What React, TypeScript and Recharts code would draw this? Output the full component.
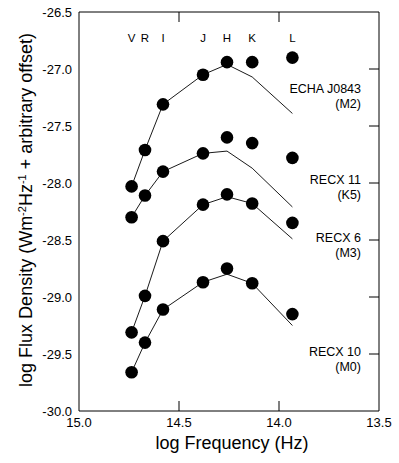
import React from "react";
import { ScatterChart, Scatter, XAxis, YAxis } from "recharts";

// photometric bands, log frequency (Hz)
const bands = ["V", "R", "I", "J", "H", "K", "L"];
const bandFreq = [14.737, 14.67, 14.58, 14.38, 14.26, 14.134, 13.933];

const stars = ["ECHA J0843", "RECX 11", "RECX 6", "RECX 10"];
const spectralTypes = ["(M2)", "(K5)", "(M3)", "(M0)"];

// observed fluxes (log, with offsets)
const echaObs = [-28.03, -27.71, -27.31, -27.05, -26.94, -26.94, -26.9];
const recx11Obs = [-28.3, -28.11, -27.9, -27.74, -27.6, -27.65, -27.78];
const recx6Obs = [-29.31, -28.99, -28.51, -28.19, -28.1, -28.18, -28.35];
const recx10Obs = [-29.66, -29.4, -29.11, -28.87, -28.75, -28.88, -29.15];

// photospheric model curves
const echaModel = [-28.03, -27.71, -27.31, -27.05, -26.96, -27.07, -27.39];
const recx11Model = [-28.3, -28.11, -27.9, -27.74, -27.72, -27.87, -28.21];
const recx6Model = [-29.31, -28.99, -28.51, -28.19, -28.12, -28.18, -28.49];
const recx10Model = [-29.66, -29.4, -29.11, -28.87, -28.8, -28.88, -29.25];

const xTicks = [15.0, 14.5, 14.0, 13.5];
const yTicks = [-30.0, -29.5, -29.0, -28.5, -28.0, -27.5, -27.0, -26.5];

// where the band letters and star names sit
const bandLabelY = -26.72;
const nameX = 13.59;
const nameY = [-27.175, -27.97, -28.48, -29.48];

const FONT = "'Liberation Sans', Arial, Helvetica, sans-serif";

const toPts = (ys: number[]) => ys.map((y, i) => ({ x: bandFreq[i], y }));

const observed = [echaObs, recx11Obs, recx6Obs, recx10Obs].map(toPts);
const models = [echaModel, recx11Model, recx6Model, recx10Model].map(toPts);
const bandData = bands.map((b, i) => ({ x: bandFreq[i], y: bandLabelY, name: b }));
const nameData = stars.map((s, i) => ({ x: nameX, y: nameY[i], name: s, sub: spectralTypes[i] }));

const Dot = (p: any) => <circle cx={p.cx} cy={p.cy} r={6.3} fill="#000" />;
const NoDot = () => <g />;

const BandText = (p: any) => (
  <text x={p.cx} y={p.cy + 4.5} textAnchor="middle" fontSize={11.5} fontFamily={FONT} fill="#000">
    {p.payload.name}
  </text>
);

const NameText = (p: any) => (
  <text textAnchor="end" fontSize={12.5} fontFamily={FONT} fill="#000">
    <tspan x={p.cx} y={p.cy + 4.5}>{p.payload.name}</tspan>
    <tspan x={p.cx} y={p.cy + 19.5}>{p.payload.sub}</tspan>
  </text>
);

const BottomTick = (p: any) => {
  const v = p.payload.value;
  const edge = v === 15 || v === 13.5;
  return (
    <g>
      {!edge && <line x1={p.x} y1={p.y} x2={p.x} y2={p.y - 10} stroke="#000" />}
      <text x={p.x} y={p.y + 16} textAnchor="middle" fontSize={13} fontFamily={FONT} fill="#000">
        {v.toFixed(1)}
      </text>
    </g>
  );
};

const TopTick = (p: any) => {
  const v = p.payload.value;
  if (v === 15 || v === 13.5) return <g />;
  return <line x1={p.x} y1={p.y} x2={p.x} y2={p.y + 10} stroke="#000" />;
};

const RightTick = (p: any) => {
  const v = p.payload.value;
  if (v === -30 || v === -26.5) return <g />;
  return <line x1={p.x} y1={p.y} x2={p.x - 10} y2={p.y} stroke="#000" />;
};

export default function App() {
  return (
    <div style={{ position: "absolute", left: 0, top: 0, background: "#fff" }}>
      <ScatterChart width={399} height={463} margin={{ top: 0, right: 0, bottom: 0, left: 0 }}>
        <XAxis
          type="number"
          dataKey="x"
          domain={[13.5, 15]}
          reversed
          ticks={xTicks}
          interval={0}
          height={52}
          tickSize={0}
          tickMargin={0}
          tickLine={false}
          axisLine={{ stroke: "#000" }}
          tick={<BottomTick />}
          allowDataOverflow
        />
        <XAxis
          xAxisId="top"
          orientation="top"
          type="number"
          dataKey="x"
          domain={[13.5, 15]}
          reversed
          ticks={xTicks}
          interval={0}
          height={12}
          tickSize={0}
          tickMargin={0}
          tickLine={false}
          axisLine={{ stroke: "#000" }}
          tick={<TopTick />}
          allowDataOverflow
        />
        <YAxis
          type="number"
          dataKey="y"
          domain={[-30, -26.5]}
          ticks={yTicks}
          interval={0}
          width={79}
          tickSize={0}
          tickMargin={7}
          tickLine={false}
          axisLine={{ stroke: "#000" }}
          tick={{ fontSize: 13, fontFamily: FONT, fill: "#000" }}
          tickFormatter={(v: number) => v.toFixed(1)}
          allowDataOverflow
        />
        <YAxis
          yAxisId="right"
          orientation="right"
          type="number"
          dataKey="y"
          domain={[-30, -26.5]}
          ticks={yTicks}
          interval={0}
          width={20}
          tickSize={0}
          tickMargin={0}
          tickLine={false}
          axisLine={{ stroke: "#000" }}
          tick={<RightTick />}
          allowDataOverflow
        />
        {models.map((d, i) => (
          <Scatter
            key={"m" + i}
            data={d}
            line={{ stroke: "#000", strokeWidth: 0.9 }}
            shape={<NoDot />}
            isAnimationActive={false}
          />
        ))}
        {observed.map((d, i) => (
          <Scatter key={"o" + i} data={d} shape={<Dot />} isAnimationActive={false} />
        ))}
        <Scatter data={bandData} shape={<BandText />} isAnimationActive={false} />
        <Scatter data={nameData} shape={<NameText />} isAnimationActive={false} />
        <text
          transform="translate(32,210) rotate(-90)"
          textAnchor="middle"
          fontSize={18}
          fontFamily={FONT}
          fill="#000"
        >
          log Flux Density (Wm
          <tspan dy={-6} fontSize={11}>-2</tspan>
          <tspan dy={6}>Hz</tspan>
          <tspan dy={-6} fontSize={11}>-1</tspan>
          <tspan dy={6}> + arbitrary offset)</tspan>
        </text>
        <text x={232} y={449} textAnchor="middle" fontSize={18} fontFamily={FONT} fill="#000">
          log Frequency (Hz)
        </text>
      </ScatterChart>
    </div>
  );
}
